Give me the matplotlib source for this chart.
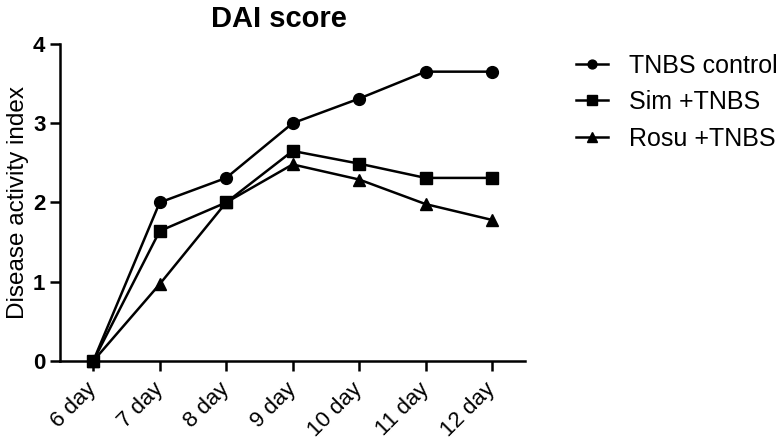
import matplotlib
matplotlib.use("Agg")
import matplotlib.pyplot as plt

days = ["6 day", "7 day", "8 day", "9 day", "10 day", "11 day", "12 day"]
tnbs_control = [0, 2.0, 2.31, 3.0, 3.31, 3.65, 3.65]
sim_tnbs = [0, 1.64, 2.0, 2.65, 2.49, 2.31, 2.31]
rosu_tnbs = [0, 0.97, 2.0, 2.48, 2.29, 1.98, 1.78]

plt.rcParams["font.family"] = ["Liberation Sans", "DejaVu Sans"]

fig = plt.figure(figsize=(7.82, 4.48), dpi=100)
ax = fig.add_axes([0.0767, 0.194, 0.595, 0.708])

x = range(len(days))
ax.plot(x, tnbs_control, color="black", lw=1.8, marker="o", ms=8.5, label="TNBS control", clip_on=False)
ax.plot(x, sim_tnbs, color="black", lw=1.8, marker="s", ms=9, label="Sim +TNBS", clip_on=False)
ax.plot(x, rosu_tnbs, color="black", lw=1.8, marker="^", ms=9, label="Rosu +TNBS", clip_on=False)

ax.set_xlim(-0.5, 6.5)
ax.set_ylim(0, 4)
ax.set_yticks([0, 1, 2, 3, 4])
ax.set_xticks(list(x))
ax.set_xticklabels(days, rotation=45, ha="right", va="center", rotation_mode="anchor", fontsize=16)
ax.tick_params(axis="both", width=1.8, length=7, labelsize=16)
ax.tick_params(axis="x", pad=11)
for lbl in ax.get_yticklabels():
    lbl.set_fontweight("bold")

for side in ["top", "right"]:
    ax.spines[side].set_visible(False)
for side in ["left", "bottom"]:
    ax.spines[side].set_linewidth(1.8)

ax.set_ylabel("Disease activity index", fontsize=17.5, labelpad=3)
ax.set_title("DAI score", fontsize=21, fontweight="bold", pad=12, x=0.47)

ax.legend(loc="upper left", bbox_to_anchor=(1.06, 1.04), frameon=False, fontsize=18,
          handlelength=1.3, handletextpad=0.85, labelspacing=0.5, markerscale=0.75)

fig.savefig("out.png", dpi=100)
